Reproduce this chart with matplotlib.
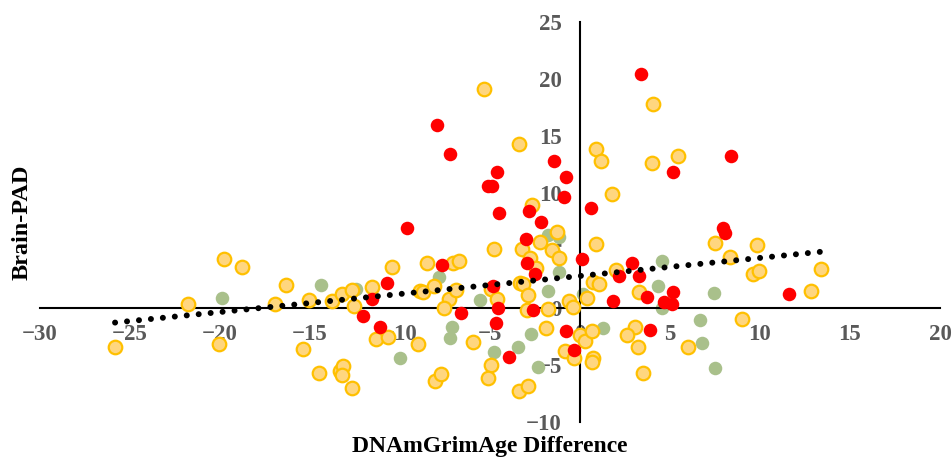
import matplotlib.pyplot as plt
import numpy as np

plt.rcParams["font.family"] = ["Liberation Serif", "DejaVu Serif"]
plt.rcParams["font.weight"] = "bold"

# yellow group (DNAmGrimAge difference, Brain-PAD)
yellow_x = [-25.83, -21.78, -19.78, -18.78, -20.06, -16.94, -16.33, -15.06, -15.39, -14.5,
            -13.78, -13.22, -12.67, -11.56, -12.56, -13.33, -13.17, -13.22, -12.67, -11.33,
            -10.67, -10.44, -9.0, -8.89, -8.72, -8.5, -8.06, -7.72, -8.11, -7.28,
            -7.56, -7.06, -6.72, -6.89, -5.94, -4.94, -5.11, -4.78, -4.94, -4.61,
            -3.22, -3.33, -3.17, -2.89, -2.94, -3.39, -2.89, -2.22, -1.56, -1.17,
            -1.28, -2.78, -2.44, -1.78, -1.89, -0.83, -0.61, -0.39, 0.0, 0.28,
            -0.33, 0.39, 0.67, 0.72, 0.67, 0.89, 0.72, 1.06, 2.0, -5.33,
            -3.39, 0.89, 1.17, 1.78, -2.67, 4.06, 5.44, 4.0, 7.5, 9.83,
            8.33, 9.61, 9.94, 3.28, 13.39, 12.83, 9.0, 3.06, 2.61, 3.22,
            6.0, 3.5]
yellow_y = [-3.41, 0.35, 4.29, 3.59, -3.15, 0.35, 2.01, 0.7, -3.59, -5.69,
            0.61, 1.22, 1.57, 1.84, 0.17, -5.51, -5.07, -5.86, -7.0, -2.71,
            -2.54, 3.59, -3.15, 1.49, 1.4, 3.94, -6.39, -5.77, 1.92, 0.79,
            0.0, 3.94, 4.11, 1.57, -2.97, -4.99, -6.12, 5.16, 1.66, 0.79,
            5.16, 2.19, 2.1, 1.14, -0.17, -7.26, -6.82, 5.77, 5.07, 4.37,
            6.65, 4.37, 3.5, -0.09, -1.75, -3.76, 0.61, 0.09, -2.36, -2.89,
            -4.37, 0.87, -2.01, -4.37, -4.72, 5.6, 2.27, 2.1, 3.32, 19.16,
            14.35, 13.91, 12.86, 9.97, 9.01, 17.85, 13.3, 12.69, 5.69, 5.51,
            4.46, 2.97, 3.24, 1.4, 3.41, 1.49, -0.96, -1.66, -2.36, -3.41,
            -3.41, -5.69]

# green group
green_x = [-19.89, -14.39, -12.44, -10.0, -7.83, -7.11, -7.22, -5.56, -4.78, -3.44,
           -2.72, -2.33, -1.78, -1.17, -1.78, -1.17, 0.17, 1.28, 4.56, 4.33,
           4.56, 6.67, 6.78, 7.5, 7.44]
green_y = [0.87, 2.01, 1.66, -4.37, 2.71, -1.66, -2.62, 0.7, -3.85, -3.41,
           -2.27, -5.16, 1.49, 3.15, 6.39, 6.21, 1.22, -1.75, 4.11, 1.92,
           0.0, -1.05, -3.06, -5.25, 1.31]

# red group
red_x = [3.39, -7.94, -7.22, 8.39, -1.44, -4.61, 5.17, -0.78, -5.11, -4.89,
         -0.89, 0.61, -4.5, -2.83, -2.17, -9.61, 7.94, 8.06, -3.0, -2.94,
         -7.67, 0.11, 2.89, -2.5, 2.17, 3.28, -4.83, -10.72, -11.56, 1.83,
         3.72, 5.17, 4.67, 5.11, -4.56, -2.61, -6.61, -12.06, -4.67, -11.11,
         -0.78, 3.89, -0.33, -3.94, 11.61]
red_y = [20.47, 16.01, 13.47, 13.3, 12.86, 11.9, 11.9, 11.46, 10.67, 10.67,
         9.71, 8.75, 8.31, 8.49, 7.52, 7.0, 7.0, 6.56, 6.04, 3.94,
         3.76, 4.29, 3.94, 2.97, 2.8, 2.8, 1.92, 2.19, 0.79, 0.61,
         0.96, 1.4, 0.52, 0.35, 0.0, -0.17, -0.44, -0.7, -1.31, -1.66,
         -2.01, -1.92, -3.67, -4.29, 1.22]

# linear trend
trend_slope = 0.158
trend_intercept = 2.78

x_ticks = [-30, -25, -20, -15, -10, -5, 0, 5, 10, 15, 20]
y_ticks = [-10, -5, 0, 5, 10, 15, 20, 25]

fig = plt.figure(figsize=(9.52, 4.59), dpi=100)
ax = fig.add_axes([40 / 952, 1 - 422 / 459, 900 / 952, 400 / 459])

ax.scatter(green_x, green_y, s=95, color="#A9C08B", linewidths=0, zorder=2)
ax.scatter(yellow_x, yellow_y, s=95, color="#FFD67F", edgecolors="#FFC000",
           linewidths=1.6, zorder=3)
ax.scatter(red_x, red_y, s=95, color="#FF0000", linewidths=0, zorder=4)

all_x = np.array(yellow_x + green_x + red_x)
tx = np.array([all_x.min(), all_x.max()])
ax.plot(tx, trend_slope * tx + trend_intercept, color="black", lw=4.3,
        linestyle=(0, (0.01, 2.0)), dash_capstyle="round", zorder=5)

ax.set_xlim(-30, 20)
ax.set_ylim(-10, 25)
ax.set_xticks(x_ticks)
ax.set_yticks(y_ticks)

for side in ["top", "right"]:
    ax.spines[side].set_visible(False)
ax.spines["left"].set_position(("data", 0))
ax.spines["bottom"].set_position(("data", 0))
ax.spines["left"].set_linewidth(1.5)
ax.spines["bottom"].set_linewidth(1.5)

ax.tick_params(axis="both", length=0, labelsize=16.5, labelcolor="#595959")
ax.tick_params(axis="x", pad=11.5)
ax.tick_params(axis="y", pad=13)

ax.set_xlabel("DNAmGrimAge Difference", fontsize=17, fontweight="bold")
ax.set_ylabel("Brain-PAD", fontsize=17.5, fontweight="bold")
ax.xaxis.set_label_coords(0.5, -0.035)
ax.yaxis.set_label_coords(-0.02, 0.5)
ax.xaxis.label.set_va("top")
ax.yaxis.label.set_va("center")

plt.savefig("out.png", dpi=100)
